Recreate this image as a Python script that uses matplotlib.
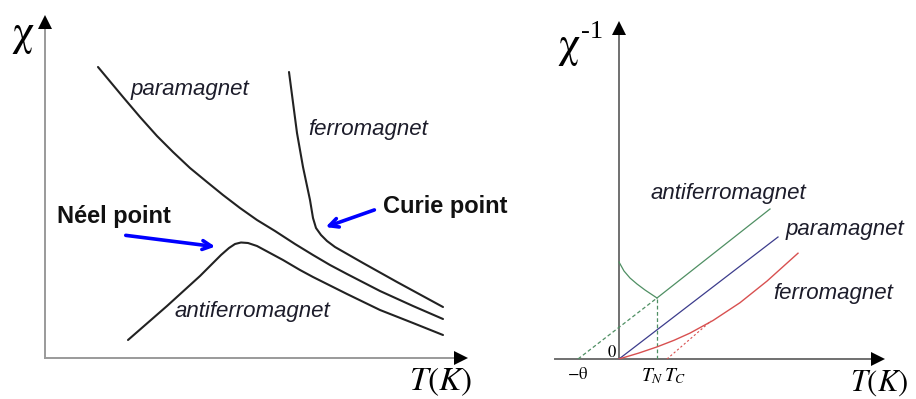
import matplotlib
matplotlib.use('Agg')
import matplotlib.pyplot as plt

plt.rcParams['mathtext.fontset'] = 'stix'

# susceptibility chi(T), arbitrary units
para_T = [53, 78, 95, 112, 128, 145, 162, 178, 195, 212, 230, 250, 268, 285, 302, 335, 368, 398]
para_chi = [291, 261, 241, 222, 206, 190, 176, 163, 150, 138, 127, 114, 103, 93, 84, 67, 52, 39]

ferro_T = [244, 252, 258, 265, 268, 271, 276, 282, 290, 318, 352, 398]
ferro_chi = [286, 225, 191, 158, 140, 130, 123, 117, 111, 95, 76, 51]

afm_T = [83, 122, 155, 176, 184, 190, 196, 203, 212, 225, 238, 255, 268, 302, 335, 368, 398]
afm_chi = [18, 52, 82, 103, 110, 114, 115.5, 115, 112, 105, 98, 88, 81, 64, 48, 35, 23]

# inverse susceptibility 1/chi(T)
theta = -41
T_N = 38
T_C = 48
afm_inv_T = [theta, T_N, 151]
afm_inv = [0, 61, 150]
afm_low_T = [0, 5, 11, 18, 26, T_N]
afm_low = [97, 88, 81, 75, 69, 61]
para_inv_T = [0, 159]
para_inv = [0, 122]
ferro_inv_T = [0, 20, 38, 55, 71, 94, 121, 148, 179]
ferro_inv = [0, 6, 12.1, 18.7, 25.9, 38.5, 56.3, 77.9, 105.8]
ferro_cw_T = [T_C, 92]
ferro_cw = [0, 38]

W, H = 916, 399
fig = plt.figure(figsize=(W / 100, H / 100), dpi=100)

label_kw = dict(fontsize=16, style='italic', family='Liberation Sans', color='#1c1c2a')
bold_kw = dict(fontsize=17, weight='bold', family='Liberation Sans', color='#111111')
serif = ['Liberation Serif', 'DejaVu Serif']


def make_axes(x0, y0, xlim, ylim):
    # place axes so that one data unit is one pixel
    w = xlim[1] - xlim[0]
    h = ylim[1] - ylim[0]
    ax = fig.add_axes([x0 / W, (H - y0) / H, w / W, h / H])
    ax.set_xlim(*xlim)
    ax.set_ylim(*ylim)
    ax.axis('off')
    return ax


def draw_arrows(ax, xmin, xmax, ymax, color):
    ax.plot([xmin, xmax - 4], [0, 0], color=color, lw=1.4, clip_on=False)
    ax.plot([0, 0], [0, ymax - 4], color=color, lw=1.4, clip_on=False)
    ax.plot(xmax - 5, 0, marker='>', ms=10, color='black', mew=0, clip_on=False)
    ax.plot(0, ymax - 5, marker='^', ms=10, color='black', mew=0, clip_on=False)


# left panel
ax1 = make_axes(45, 358, (0, 421), (0, 341))
draw_arrows(ax1, 0, 421, 341, '#9a9a9a')
for T, chi in [(para_T, para_chi), (ferro_T, ferro_chi), (afm_T, afm_chi)]:
    ax1.plot(T, chi, color='#222222', lw=1.5, solid_capstyle='round',
             solid_joinstyle='round', clip_on=False)

ax1.text(145, 268, 'paramagnet', ha='center', va='center', **label_kw)
ax1.text(323, 228, 'ferromagnet', ha='center', va='center', **label_kw)
ax1.text(207, 46, 'antiferromagnet', ha='center', va='center', **label_kw)
ax1.text(12, 141, 'Néel point', ha='left', va='center', **bold_kw)
ax1.text(338, 152, 'Curie point', ha='left', va='center', clip_on=False, **bold_kw)

arrow_kw = dict(arrowstyle='->', color='#0000ff', lw=2.6, mutation_scale=16)
ax1.annotate('', xy=(173, 111), xytext=(78, 123), arrowprops=arrow_kw)
ax1.annotate('', xy=(278, 130), xytext=(332, 149), arrowprops=arrow_kw)

ax1.text(-22, 323, r'$\mathrm{\chi}$', fontsize=32, ha='center', va='center')
ax1.text(396, -23, r'$T(K)$', fontsize=24, ha='center', va='center')

# right panel
ax2 = make_axes(555, 359, (-64, 264), (0, 336))
draw_arrows(ax2, -64, 264, 336, '#707070')

green = '#4f8f63'
ax2.plot(afm_inv_T[:2], afm_inv[:2], color=green, lw=0.9, ls=(0, (3, 2)))
ax2.plot(afm_inv_T[1:], afm_inv[1:], color=green, lw=0.9)
ax2.plot(afm_low_T, afm_low, color=green, lw=0.9)
ax2.plot([T_N, T_N], [0, afm_inv[1]], color=green, lw=0.9, ls=(0, (3, 2)))
ax2.plot(para_inv_T, para_inv, color='#3c3c8c', lw=0.9)
ax2.plot(ferro_inv_T, ferro_inv, color='#d85050', lw=1.0)
ax2.plot(ferro_cw_T, ferro_cw, color='#d85050', lw=0.8, ls=(0, (2, 2)))

ax2.text(109, 166, 'antiferromagnet', ha='center', va='center', **label_kw)
ax2.text(226, 129, 'paramagnet', ha='center', va='center', clip_on=False, **label_kw)
ax2.text(214, 66, 'ferromagnet', ha='center', va='center', **label_kw)

ax2.text(-50, 312, r'$\mathrm{\chi}$', fontsize=32, ha='center', va='center')
ax2.text(-27, 327, '-1', fontsize=19, family=serif, ha='center', va='center')
ax2.text(289, -24, r'$T(K)$', fontsize=22, ha='right', va='center', clip_on=False)
ax2.text(-7, 7, r'$\mathrm{0}$', fontsize=12, ha='center', va='center')
ax2.text(theta, -15, r'$\mathrm{-\theta}$', fontsize=12, ha='center', va='center')
ax2.text(33, -17, r'$T_N$', fontsize=14, ha='center', va='center')
ax2.text(56, -17, r'$T_C$', fontsize=14, ha='center', va='center')

fig.savefig('out.png', dpi=100)
